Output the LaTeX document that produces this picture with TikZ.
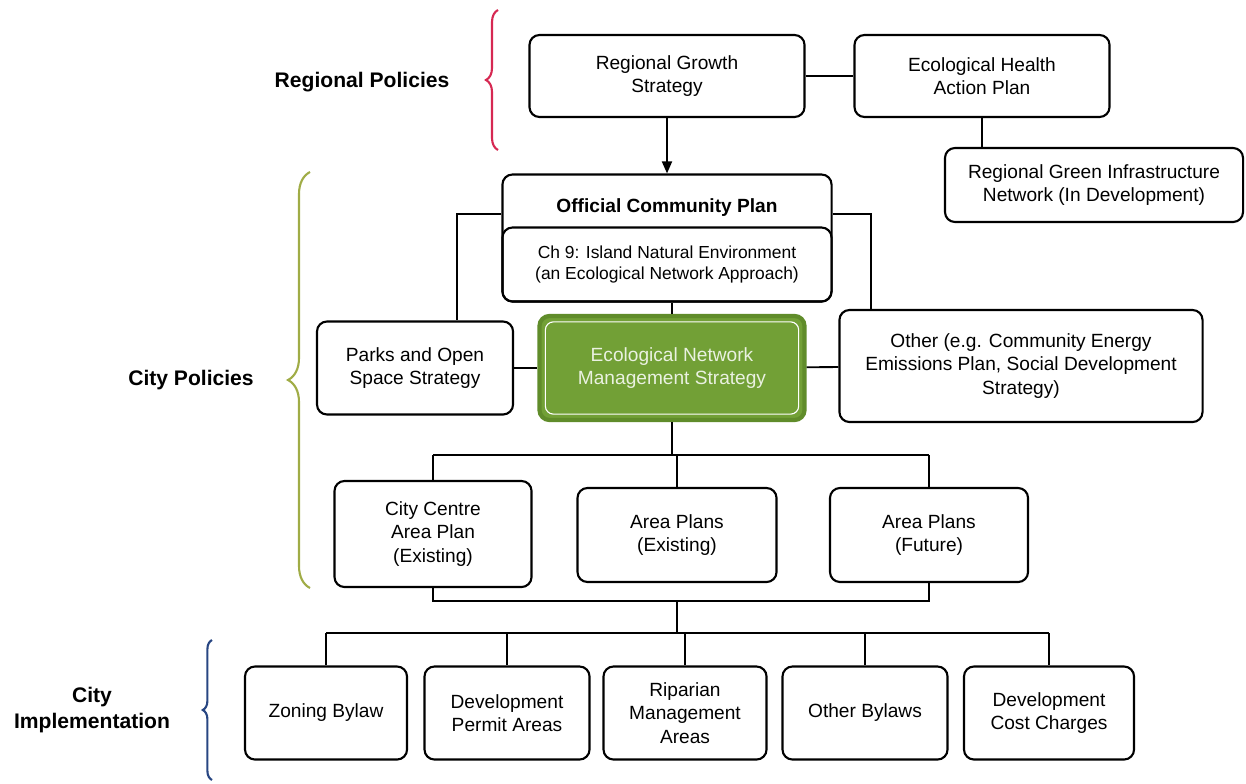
\documentclass[tikz,border=0pt]{standalone}
\usepackage{fontspec}
\setmainfont{Liberation Sans}
\usetikzlibrary{arrows.meta, decorations.pathreplacing}
\definecolor{enmgreen}{RGB}{114,160,54}
\definecolor{enmedge}{RGB}{96,140,42}
\definecolor{regred}{RGB}{214,40,82}
\definecolor{cityolive}{RGB}{160,172,70}
\definecolor{implblue}{RGB}{40,70,130}

\begin{document}
\begin{tikzpicture}[
	x=0.025cm, y=-0.025cm,
	box/.style = {draw, line width=1.5pt, rounded corners=2.5mm, align=center,
	              font=\fontsize{13.6}{16.8}\selectfont, inner sep=2pt},
	conn/.style = {line width=1.3pt},
	grp/.style = {font=\fontsize{15}{18}\selectfont\bfseries, align=center},
	brc/.style = {decorate, line width=1.5pt, decoration={brace, amplitude=#1}},
	]
	\useasboundingbox (0,0) rectangle (1246,783);
%
	\node[grp] (lblreg) at (362,82) {Regional Policies};
	\node[grp] (lblcity) at (191,380) {City Policies};
	\node[grp] (lblimpl) at (92,710) {City\\Implementation};
	\draw[brc=3mm, regred] (498,150) -- (498,10);
	\draw[brc=5.5mm, cityolive] (310,588) -- (310,172);
	\draw[brc=2.3mm, implblue] (212,780) -- (212,640);
%
	\node[box, minimum width=6.875cm, minimum height=2.05cm] (rgs) at (667,76) {Regional Growth\\Strategy};
	\node[box, minimum width=6.375cm, minimum height=2.05cm] (ehap) at (982,76) {Ecological Health\\Action Plan};
	\node[box, minimum width=7.45cm, minimum height=1.85cm] (rgi) at (1094,185) {Regional Green Infrastructure\\Network (In Development)};
	\draw[conn] (rgs) -- (ehap);
	\draw[conn] (ehap.south) -- (ehap.south |- rgi.north);
%
	\node[box, minimum width=8.225cm, minimum height=3.175cm] (ocp) at (667,238) {};
	\node[font=\fontsize{13.6}{16.8}\selectfont\bfseries] (ocpt) at (667,208) {Official Community Plan};
	\node[box, font=\fontsize{12.4}{15}\selectfont, minimum width=8.225cm, minimum height=1.85cm, anchor=south] (ch9) at (ocp.south) {Ch 9: Island Natural Environment\\(an Ecological Network Approach)};
	\draw[conn, -{Triangle[length=3mm, width=2.5mm]}] (rgs.south) -- (rgs.south |- ocp.north);
%
	\node[box, minimum width=4.9cm, minimum height=2.325cm] (parks) at (415,368) {Parks and Open\\Space Strategy};
	\node[box, fill=enmgreen, draw=enmedge, line width=3pt, text=white!85!enmgreen,
	      minimum width=6.625cm, minimum height=2.6cm] (enms) at (672,368) {Ecological Network\\Management Strategy};
	\draw[white, line width=0.8pt, rounded corners=2mm] ([shift={(2mm,2mm)}]enms.south west) rectangle ([shift={(-2mm,-2mm)}]enms.north east);
	\node[box, minimum width=9.075cm, minimum height=2.8cm] (other) at (1021,366) {Other (e.g. Community Energy\\Emissions Plan, Social Development\\Strategy)};
	\draw[conn] ([yshift=5.9mm]ocp.west) -| ([xshift=10.5mm]parks.north);
	\draw[conn] ([yshift=5.9mm]ocp.east) -| ([xshift=-37.4mm]other.north);
	\draw[conn] (ch9.south -| enms.north) -- (enms.north);
	\draw[conn] (parks) -- (enms);
	\draw[conn] (enms) -- (other);
%
	\node[box, minimum width=4.925cm, minimum height=2.65cm] (ccap) at (433,534) {City Centre\\Area Plan\\(Existing)};
	\node[box, minimum width=4.975cm, minimum height=2.35cm] (ape) at (677,535) {Area Plans\\(Existing)};
	\node[box, minimum width=4.95cm, minimum height=2.35cm] (apf) at (929,535) {Area Plans\\(Future)};
	\coordinate (bus1) at (676,455);
	\draw[conn] (enms.south) -- (enms.south |- bus1);
	\draw[conn] (ccap.north |- bus1) -- (apf.north |- bus1);
	\foreach \n in {ccap, ape, apf}
		\draw[conn] (\n.north |- bus1) -- (\n.north);
%
	\node[box, minimum width=4.05cm, minimum height=2.325cm] (zon) at (326,713) {Zoning Bylaw};
	\node[box, minimum width=4.125cm, minimum height=2.325cm] (dpa) at (507,713) {Development\\Permit Areas};
	\node[box, minimum width=4.075cm, minimum height=2.325cm] (rma) at (685,713) {Riparian\\Management\\Areas};
	\node[box, minimum width=4.125cm, minimum height=2.325cm] (obl) at (865,713) {Other Bylaws};
	\node[box, minimum width=4.25cm, minimum height=2.325cm] (dcc) at (1049,713) {Development\\Cost Charges};
	\coordinate (bus2) at (676,601);
	\coordinate (bus3) at (676,633);
	\draw[conn] (ccap.south) |- (apf.south |- bus2) -- (apf.south);
	\draw[conn] (ape.south |- bus2) -- (ape.south |- bus3);
	\draw[conn] (zon.north |- bus3) -- (dcc.north |- bus3);
	\foreach \n in {zon, dpa, rma, obl, dcc}
		\draw[conn] (\n.north |- bus3) -- (\n.north);
\end{tikzpicture}
\end{document}
